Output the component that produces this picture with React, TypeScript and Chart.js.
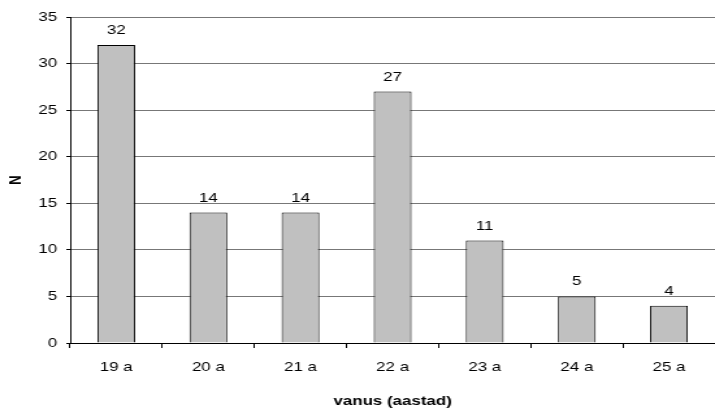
import React, { useEffect, useRef } from "react";
import { Chart, registerables } from "chart.js";

Chart.register(...registerables);

const categories = ["19 a", "20 a", "21 a", "22 a", "23 a", "24 a", "25 a"];
const counts = [32, 14, 14, 27, 11, 5, 4];
const yTicks = [0, 5, 10, 15, 20, 25, 30, 35];

const FONT = "'Liberation Sans', Arial, sans-serif";
// The reference picture is horizontally stretched; draw at 550px and scale to 715px.
const BASE_W = 550;
const H = 413;
const STRETCH = 715 / BASE_W;

const valueLabels = {
  id: "valueLabels",
  afterDatasetsDraw(chart: any) {
    const ctx = chart.ctx;
    const meta = chart.getDatasetMeta(0);
    ctx.save();
    ctx.font = `13px ${FONT}`;
    ctx.fillStyle = "#000";
    ctx.textAlign = "center";
    ctx.textBaseline = "alphabetic";
    meta.data.forEach((bar: any, i: number) => {
      ctx.fillText(String(counts[i]), bar.x, bar.y - 11);
    });
    ctx.restore();
  },
};

export default function App() {
  const ref = useRef<HTMLCanvasElement>(null);
  useEffect(() => {
    document.body.style.margin = "0";
    const chart = new Chart(ref.current!, {
      type: "bar",
      data: {
        labels: categories,
        datasets: [
          {
            data: counts,
            backgroundColor: "#c0c0c0",
            borderColor: "#000",
            borderWidth: 1,
            barPercentage: 0.41,
            categoryPercentage: 1,
          },
        ],
      },
      options: {
        animation: false,
        responsive: false,
        maintainAspectRatio: false,
        layout: { padding: { top: 17, right: 0, left: 0, bottom: 0 } },
        plugins: { legend: { display: false }, tooltip: { enabled: false } },
        scales: {
          x: {
            grid: { drawOnChartArea: false, color: "#000", tickLength: 5, offset: true },
            border: { color: "#000", width: 1 },
            ticks: { color: "#000", font: { family: FONT, size: 13 }, padding: 12 },
            title: {
              display: true,
              text: "vanus (aastad)",
              color: "#000",
              font: { family: FONT, size: 13, weight: "bold" },
              padding: { top: 4, bottom: 4 },
            },
            afterFit(scale: any) {
              scale.height = 70;
            },
          },
          y: {
            min: 0,
            max: 35,
            afterBuildTicks(scale: any) {
              scale.ticks = yTicks.map((v) => ({ value: v }));
            },
            grid: { color: "#777", tickLength: 3, tickColor: "#000" },
            border: { color: "#000", width: 1 },
            ticks: { color: "#000", font: { family: FONT, size: 13 }, padding: 7 },
            title: {
              display: true,
              text: "N",
              color: "#000",
              font: { family: FONT, size: 13, weight: "bold" },
              padding: { top: 5, bottom: 0 },
            },
            afterFit(scale: any) {
              scale.width = 54;
            },
          },
        },
      },
      plugins: [valueLabels],
    });
    return () => chart.destroy();
  }, []);
  return (
    <div style={{ position: "absolute", left: 0, top: 0, width: 715, height: H, overflow: "hidden" }}>
      <div
        style={{
          width: BASE_W,
          height: H,
          transform: `scaleX(${STRETCH})`,
          transformOrigin: "0 0",
        }}
      >
        <canvas ref={ref} width={BASE_W} height={H} />
      </div>
    </div>
  );
}
